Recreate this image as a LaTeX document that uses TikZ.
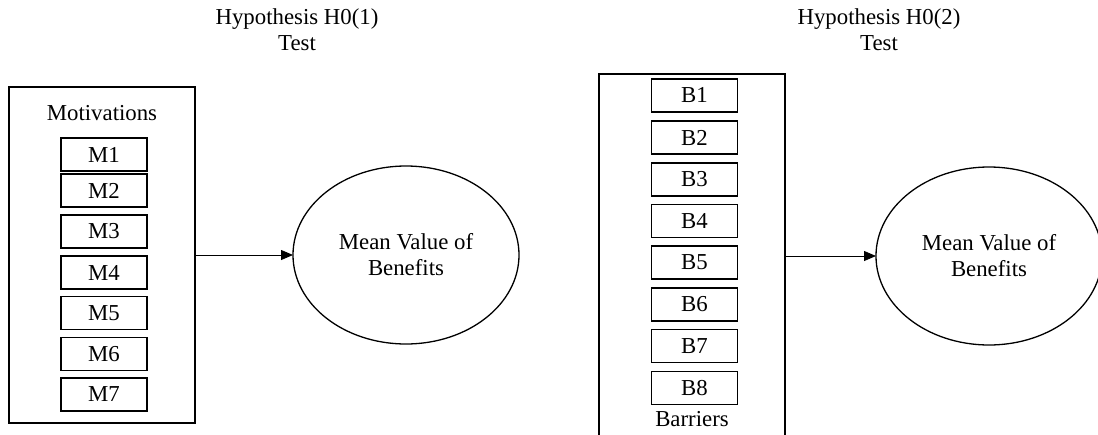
\documentclass[tikz,border=0pt]{standalone}
\usepackage{fontspec}
\setmainfont{Liberation Serif}
\usetikzlibrary{arrows.meta,shapes.geometric}
\begin{document}
\begin{tikzpicture}[x=1pt,y=-1pt,
  every node/.style={font=\fontsize{22.8}{26}\selectfont},
  outerbox/.style={draw,line width=1.4pt,inner sep=0pt,outer sep=0pt,minimum width=186pt},
  itembox/.style={draw,line width=1.4pt,inner sep=0pt,outer sep=0pt,minimum width=86pt,minimum height=33pt},
  benefit/.style={draw,ellipse,line width=1.3pt,inner sep=0pt,outer sep=0pt,minimum width=226pt,minimum height=178pt,align=center},
  title/.style={align=center},
  link/.style={line width=0.8pt,-{Triangle[length=12pt,width=10pt]}}]
\useasboundingbox (0,0) rectangle (1098,434);
% titles
\node[title] (t1) at (297,29.5) {Hypothesis H0(1)\\Test};
\node[title] (t2) at (879,29.5) {Hypothesis H0(2)\\Test};
% left group
\node[outerbox,minimum height=336pt] (L) at (102,255) {};
\node (mot) at (102,113) {Motivations};
\node[itembox] (m1) at (104,154.5) {M1};
\node[itembox] (m2) at (104,190.5) {M2};
\node[itembox] (m3) at (104,231.5) {M3};
\node[itembox] (m4) at (104,272.5) {M4};
\node[itembox] (m5) at (104,313) {M5};
\node[itembox] (m6) at (104,354) {M6};
\node[itembox] (m7) at (104,394.5) {M7};
\node[benefit] (e1) at (406,255) {Mean Value of\\Benefits};
\draw[link] (L.east) -- (e1.west);
% right group
\node[outerbox,minimum height=364pt] (R) at (692,256) {};
\node[itembox] (b1) at (694.5,95.5) {B1};
\node[itembox] (b2) at (694.5,137.5) {B2};
\node[itembox] (b3) at (694.5,179.5) {B3};
\node[itembox] (b4) at (694.5,221) {B4};
\node[itembox] (b5) at (694.5,262.5) {B5};
\node[itembox] (b6) at (694.5,304.5) {B6};
\node[itembox] (b7) at (694.5,346) {B7};
\node[itembox] (b8) at (694.5,388) {B8};
\node (bar) at (692,419) {Barriers};
\node[benefit] (e2) at (989,256) {Mean Value of\\Benefits};
\draw[link] (R.east) -- (e2.west);
\end{tikzpicture}
\end{document}
